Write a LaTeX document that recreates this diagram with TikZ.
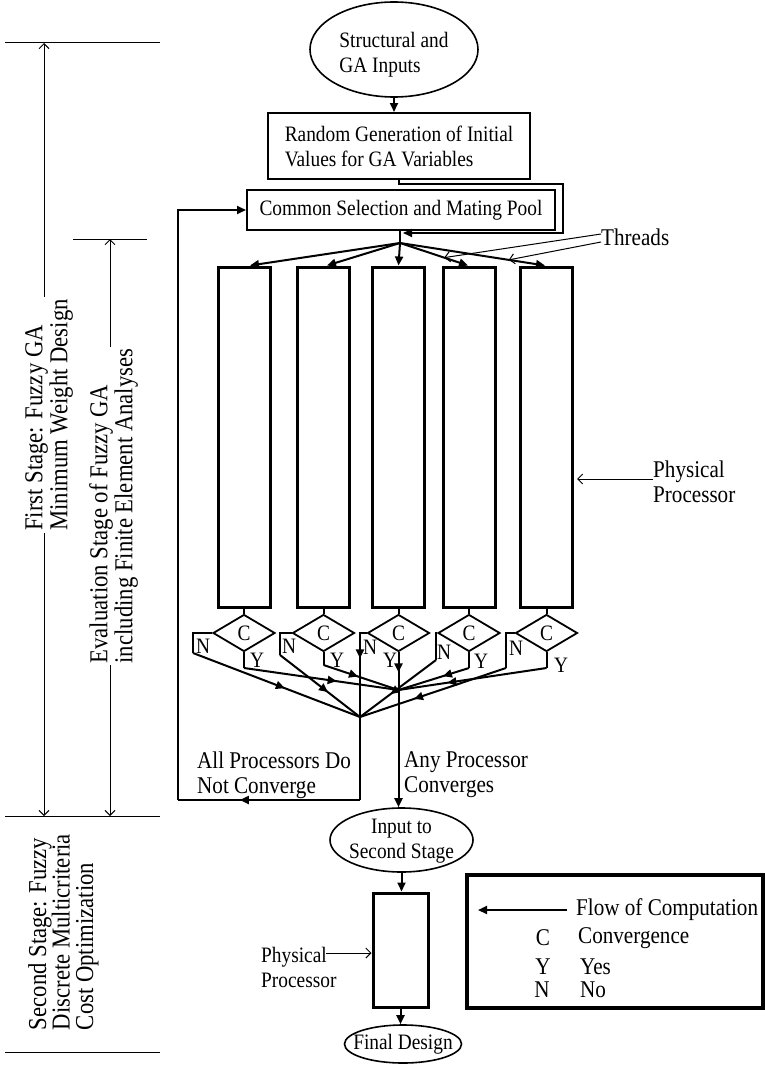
\documentclass[tikz,border=0pt]{standalone}
\usepackage{fontspec}
\setmainfont[FakeStretch=0.88]{Liberation Serif}
\usetikzlibrary{shapes.geometric,arrows.meta,decorations.markings,calc}
\newcommand\fA{\fontsize{22pt}{25pt}\selectfont}
\newcommand\fB{\fontsize{24pt}{25pt}\selectfont}
\newcommand\fC{\fontsize{25.8pt}{25pt}\selectfont}
\newcommand\fD{\fontsize{25.8pt}{23.5pt}\selectfont}
\begin{document}
\begin{tikzpicture}[x=1pt,y=-1pt,
  box/.style={draw, line width=2pt, inner sep=0pt},
  pbox/.style={draw, line width=3pt, minimum width=52pt, minimum height=340pt, inner sep=0pt},
  dia/.style={draw, diamond, line width=1.8pt, minimum width=62pt, minimum height=37pt, inner sep=0pt},
  ell/.style={draw, ellipse, line width=1.6pt, inner sep=0pt},
  con/.style={line width=2pt},
  arr/.style={con, -{Triangle[length=9pt,width=8pt]}},
  thinl/.style={line width=1pt},
  ptr/.style={line width=1pt, -{Straight Barb[length=5pt,width=10pt]}},
  dim/.style={line width=1pt, {Straight Barb[length=5pt,width=10pt]}-{Straight Barb[length=5pt,width=10pt]}},
  midarr/.style={postaction={decorate,decoration={markings,mark=at position #1 with {\arrow{Triangle[length=9pt,width=8pt]}}}}},
  lbl/.style={inner sep=0pt, font=\fB},
  sm/.style={inner sep=0pt, font=\fA},
  font=\fA
]
\useasboundingbox (0,0) rectangle (765,1065);

% ---------- left dimension lines ----------
\draw[thinl] (5,43) -- (160,43);
\draw[thinl] (73,239) -- (147,239);
\draw[thinl] (5,816) -- (160,816);
\draw[thinl] (5,1052) -- (160,1052);
\draw[dim] (44,43) -- (44,816);
\draw[dim] (110,239) -- (110,816);
\node[rotate=90, fill=white, inner sep=2pt, align=left, font=\fC] (st1) at (49,415) {First Stage: Fuzzy GA\\Minimum Weight Design};
\node[rotate=90, fill=white, inner sep=2pt, align=left, font=\fC] (st2) at (113.5,506) {Evaluation Stage of Fuzzy GA\\including Finite Element Analyses};
\node[rotate=90, inner sep=0pt, align=left, font=\fD] (st3) at (63.5,932) {Second Stage: Fuzzy\\Discrete Multicriteria\\Cost Optimization};

% ---------- top ----------
\node[ell, minimum width=168pt, minimum height=95pt, label={[align=left,yshift=-5pt]center:Structural and\\GA Inputs}] (inp) at (394,49.5) {};
\node[box, minimum width=262pt, minimum height=66pt, align=left] (rand) at (399,146) {Random Generation of Initial\\Values for GA Variables};
\node[box, minimum width=308pt, minimum height=40pt] (com) at (401,210) {Common Selection and Mating Pool};
\draw[arr] (inp.south) -- (inp.south |- rand.north);
\coordinate (rc1) at (563,184);
\coordinate (rc2) at (403,233);
\draw[arr] (rand.south) |- (rc1) |- (rc2);
\coordinate (TP) at (400,243);
\draw[con] (TP |- com.south) -- (TP);

% ---------- processors ----------
\foreach \i/\x in {1/244,2/323.5,3/398.5,4/469,5/546.5}{
  \node[pbox] (p\i) at (\x,437) {};
  \node[dia] (d\i) at (\x,633) {C};
  \draw[con] (p\i.south) -- (d\i.north);
}
\draw[arr] (TP) -- ([xshift=6pt]p1.north);
\draw[arr] (TP) -- ([xshift=3.5pt]p2.north);
\draw[arr] (TP) -- (p3.north);
\draw[arr] (TP) -- ([xshift=-1pt]p4.north);
\draw[arr] (TP) -- ([xshift=-1.5pt]p5.north);
\coordinate (th4) at ($(TP)!0.65!([xshift=-1pt]p4.north)$);
\coordinate (th5) at ($(TP)!0.75!([xshift=-1.5pt]p5.north)$);
\node[lbl, anchor=west] (thr) at (601,237) {Threads};
\draw[ptr] ([yshift=3pt]thr.west) -- (th4);
\draw[ptr] ([yshift=-5pt]thr.west) -- (th5);

\node[lbl, align=left, anchor=west] (pp1) at (653,482) {Physical\\Processor};
\coordinate (pa) at ([yshift=3pt]pp1.west);
\draw[ptr] (pa) -- ([xshift=3pt]pa -| p5.east);

% ---------- convergence ----------
\coordinate (NP) at (360,717);
\coordinate (YP) at (398.5,690);
\coordinate (n1) at (193,653);
\coordinate (n2) at (280,655);
\coordinate (n4) at (436,660);
\coordinate (n5) at (506,668);
\coordinate (y1) at (244,668);
\coordinate (y2) at (323.5,665);
\coordinate (y4) at (469,668);
\coordinate (y5) at (546.5,668);
\foreach \i in {1,2,4,5}{
  \draw[con] (d\i.west) -| (n\i);
  \draw[con] (d\i.south) -- (y\i);
}
\draw[con, midarr=0.55] (n1) -- (NP);
\draw[con, midarr=0.6] (n2) -- (NP);
\draw[con, midarr=0.6] (n4) -- (NP);
\draw[con, midarr=0.63] (n5) -- (NP);
\draw[con, midarr=0.6] (y1) -- (YP);
\draw[con, midarr=0.46] (y2) -- (YP);
\draw[con, midarr=0.37] (y4) -- (YP);
\draw[con, midarr=0.67] (y5) -- (YP);

\node[sm] (N1) at (203,646) {N};
\node[sm] (N2) at (289,646) {N};
\node[sm] (N3) at (370,647) {N};
\node[sm] (N4) at (444,652) {N};
\node[sm] (N5) at (516,648) {N};
\node[sm] (Y1) at (257,660) {Y};
\node[sm] (Y2) at (337,660) {Y};
\node[sm] (Y3) at (390,660) {Y};
\node[sm] (Y4) at (481,661) {Y};
\node[sm] (Y5) at (561,665) {Y};

% feedback (no convergence)
\coordinate (fbR) at (360,800);
\coordinate (fbL) at (178,800);
\draw[con, midarr=32pt] (d3.west) -| (fbR);
\draw[con, midarr=0.66] (fbR) -- (fbL);
\draw[arr] (fbL) |- (com.west);
\node[lbl, align=left, anchor=west] (nc) at (197,775) {All Processors Do\\Not Converge};

% convergence to second stage
\node[ell, minimum width=143pt, minimum height=64pt, label={[align=center,yshift=-1pt]center:Input to\\Second Stage}] (inp2) at (401.5,840) {};
\draw[arr, midarr=20pt] (d3.south) -- (d3.south |- inp2.north);
\node[lbl, align=left, anchor=west] (ac) at (404,775) {Any Processor\\Converges};

% ---------- second stage ----------
\node[draw, line width=3pt, minimum width=55pt, minimum height=114pt, inner sep=0pt] (sbox) at (400.5,950) {};
\node[ell, minimum width=117pt, minimum height=38pt, label={center:Final Design}] (fin) at (403,1044) {};
\draw[arr] (inp2.south) -- (inp2.south |- sbox.north);
\draw[arr] (sbox.south) -- (sbox.south |- fin.north);
\node[sm, align=left, anchor=west] (pp2) at (261,967) {Physical\\Processor};
\coordinate (pb) at (326,953);
\draw[ptr] (pb) -- (pb -| sbox.west);

% ---------- legend ----------
\node[draw, line width=4pt, minimum width=296pt, minimum height=133pt, inner sep=0pt] (leg) at (615,941.5) {};
\coordinate (la) at (567,910);
\coordinate (lb) at (478,910);
\draw[arr] (la) -- (lb);
\node[lbl, anchor=west] (lf) at (576,910) {Flow of Computation};
\node[lbl] (lc) at (543,938) {C};
\node[lbl, anchor=west] (lc2) at (578,938) {Convergence};
\node[lbl] (ly) at (543,967) {Y};
\node[lbl, anchor=west] (ly2) at (580,967) {Yes};
\node[lbl] (ln) at (542,990) {N};
\node[lbl, anchor=west] (ln2) at (580,990) {No};
\end{tikzpicture}
\end{document}
